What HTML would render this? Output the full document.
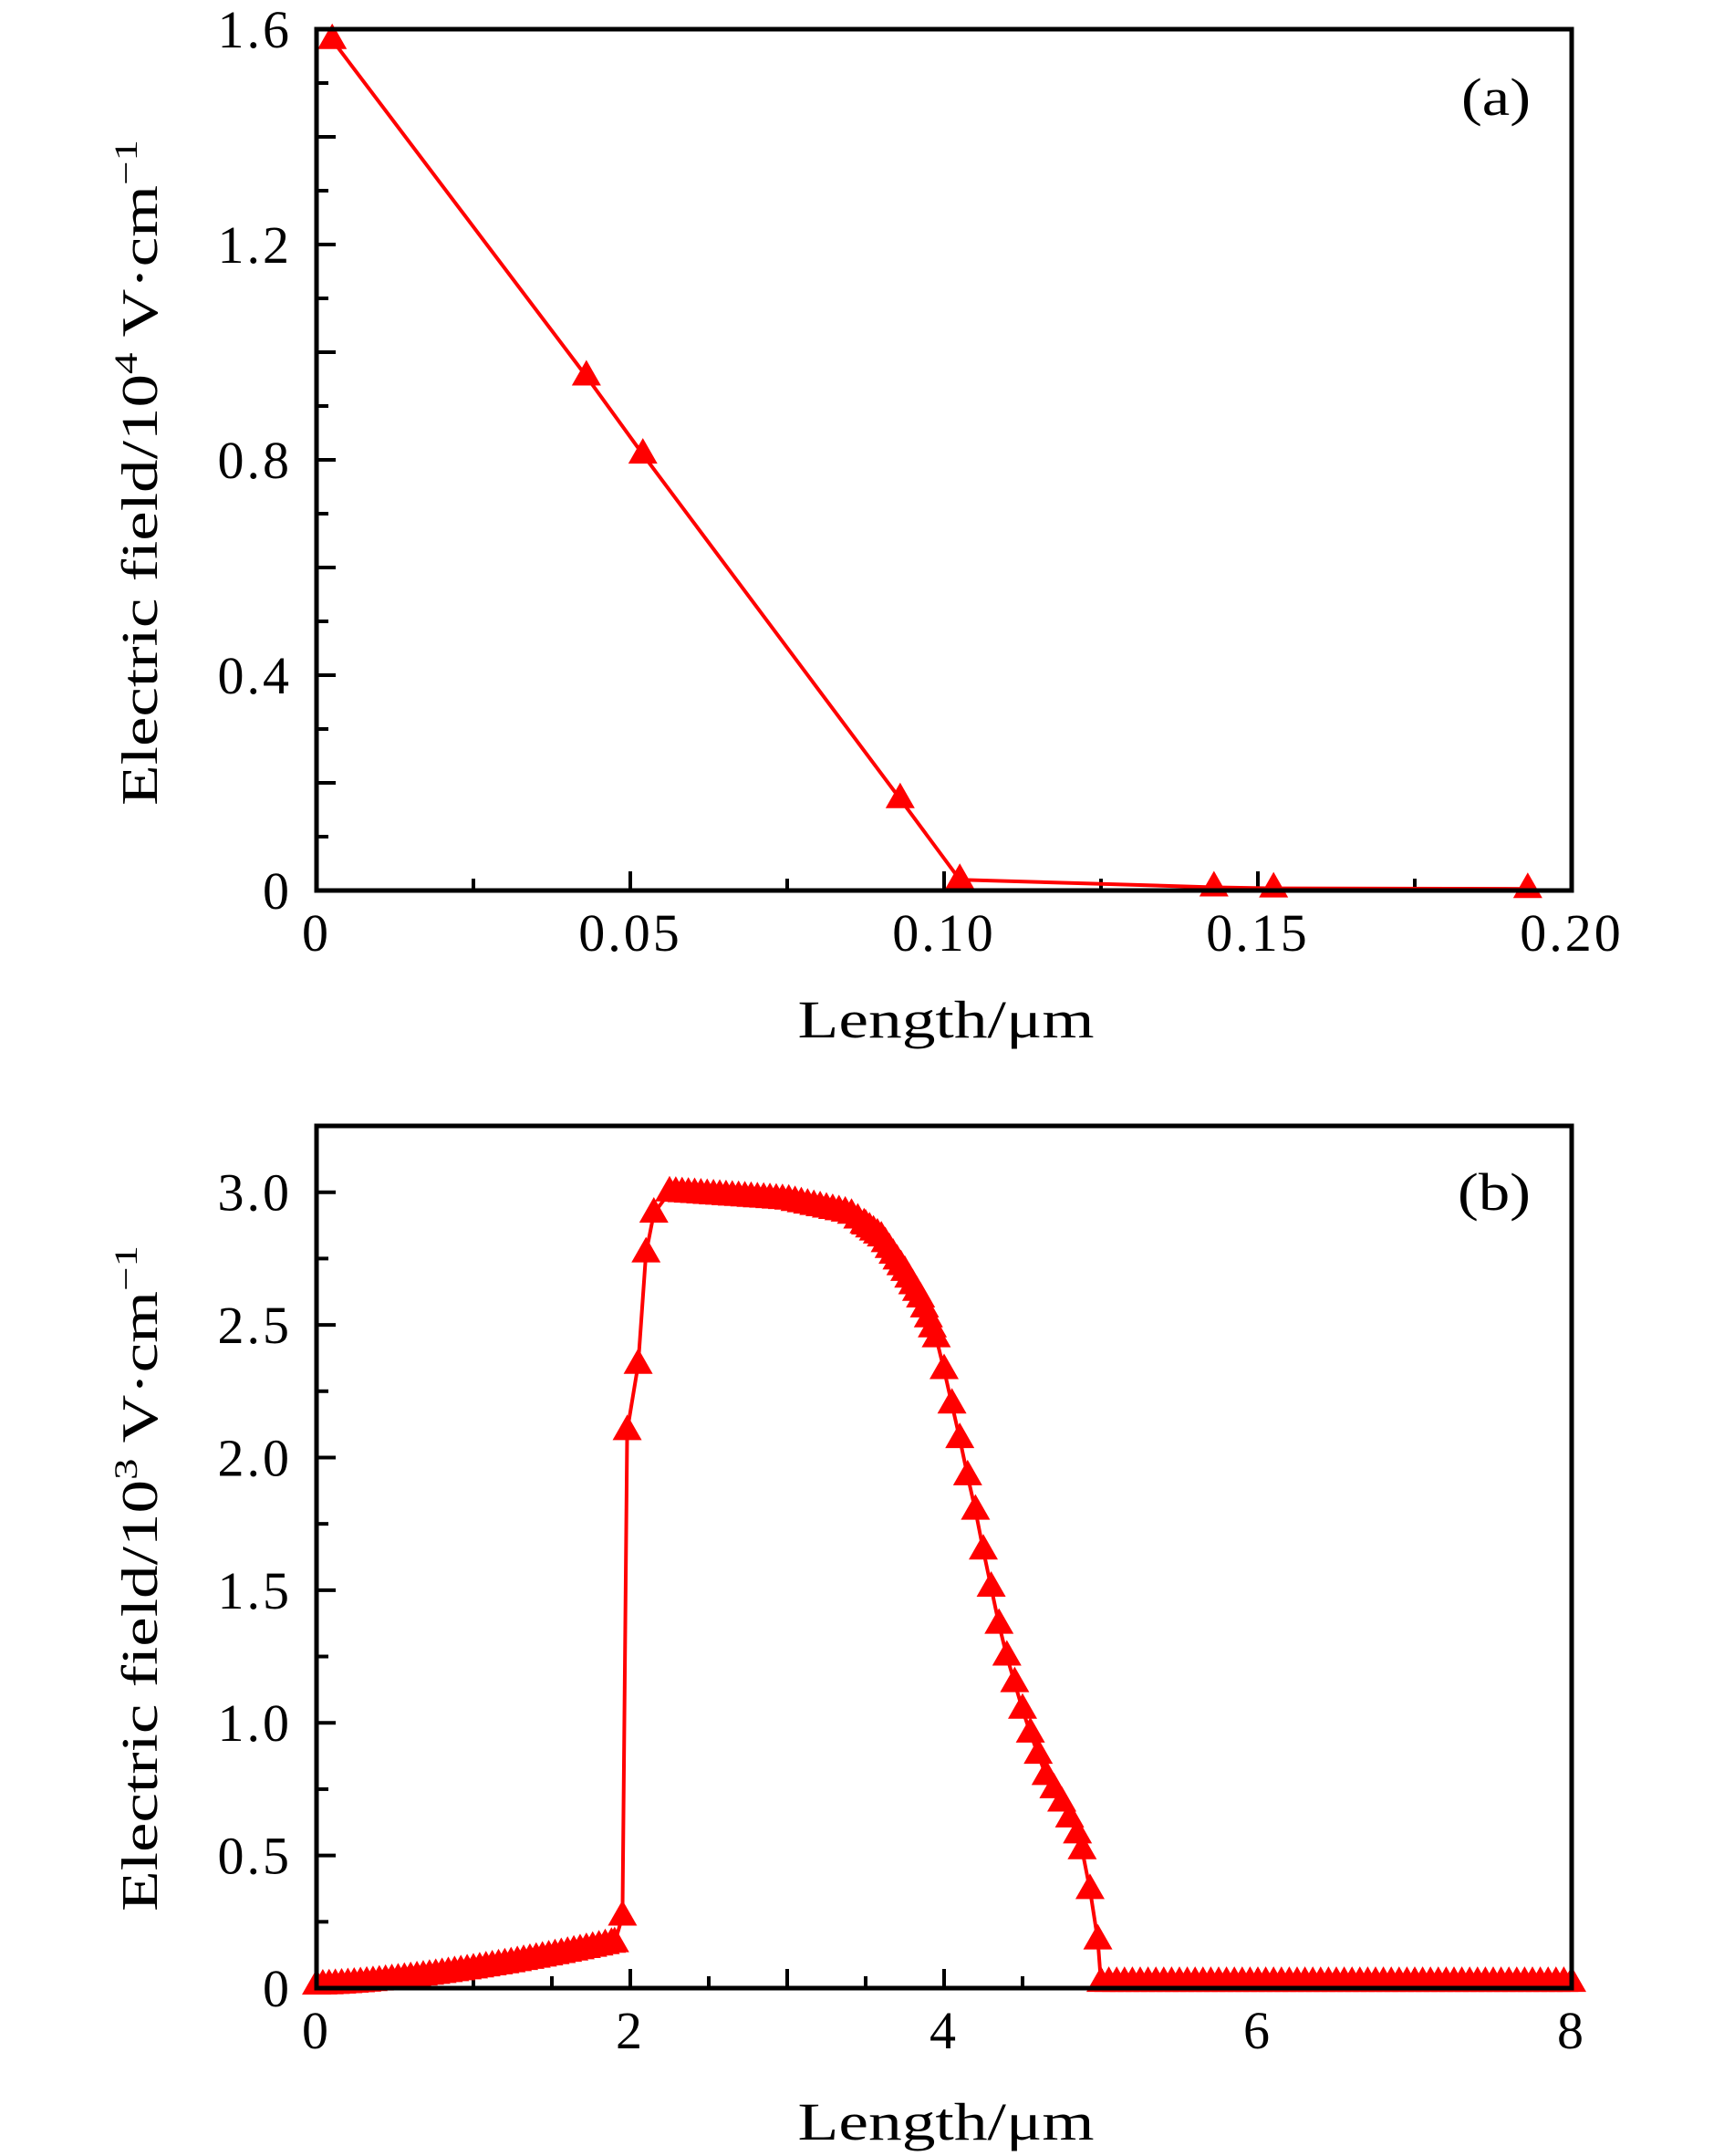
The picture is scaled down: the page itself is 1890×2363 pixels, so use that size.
<!DOCTYPE html>
<html><head><meta charset="utf-8"><style>
html,body{margin:0;padding:0;background:#fff;}
svg{display:block;}
text{font-family:"Liberation Serif",serif;fill:#000;}
</style></head><body>
<svg id="s" width="1890" height="2363" viewBox="0 0 1890 2363" xmlns="http://www.w3.org/2000/svg">
<rect width="1890" height="2363" fill="#fff"/>
<g id="g"></g>
<text x="1037" y="1137" font-size="58" text-anchor="middle" textLength="325" lengthAdjust="spacingAndGlyphs">Length/μm</text>
<text x="1037" y="2345" font-size="58" text-anchor="middle" textLength="325" lengthAdjust="spacingAndGlyphs">Length/μm</text>
<text transform="translate(172,518) rotate(-90)" font-size="56" text-anchor="middle" textLength="730" lengthAdjust="spacingAndGlyphs">Electric field/10<tspan font-size="36" dy="-22">4</tspan><tspan dy="22"> V·cm</tspan><tspan font-size="36" dy="-22">−1</tspan></text>
<text transform="translate(172,1730) rotate(-90)" font-size="56" text-anchor="middle" textLength="730" lengthAdjust="spacingAndGlyphs">Electric field/10<tspan font-size="36" dy="-22">3</tspan><tspan dy="22"> V·cm</tspan><tspan font-size="36" dy="-22">−1</tspan></text>
<text x="1620" y="126" font-size="58" textLength="76" lengthAdjust="spacingAndGlyphs" transform="translate(-18,0)">(a)</text>
<text x="1616" y="1326" font-size="58" textLength="80" lengthAdjust="spacingAndGlyphs" transform="translate(-18,0)">(b)</text>
</svg>
<script>
var g=document.getElementById('g'),h='';
var L=347,R=1723;
function ax(T,B,xmax,ymax,xt,xmin,xlab,yt,yminor,ylab,fmtx,fmty){
  var sx=function(v){return L+(R-L)*v/xmax},sy=function(v){return B-(B-T)*v/ymax};
  for(var v=0;v<=xmax+1e-9;v+=xmin){var x=sx(v);var maj=Math.abs(v/xt-Math.round(v/xt))<1e-6;
    h+='<line x1="'+x+'" y1="'+B+'" x2="'+x+'" y2="'+(B-(maj?21:13))+'" stroke="#000" stroke-width="4"/>';}
  for(var i=0;i<xlab.length;i++){h+='<text x="'+sx(xlab[i])+'" y="'+(B+66)+'" font-size="58" letter-spacing="3" text-anchor="middle">'+fmtx(xlab[i])+'</text>';}
  for(var v=0;v<=ymax+1e-9;v+=yminor){var y=sy(v);var maj=Math.abs(v/yt-Math.round(v/yt))<1e-6;
    h+='<line x1="'+L+'" y1="'+y+'" x2="'+(L+(maj?21:13))+'" y2="'+y+'" stroke="#000" stroke-width="4"/>';}
  for(var i=0;i<ylab.length;i++){h+='<text x="320" y="'+(sy(ylab[i])+20)+'" font-size="58" letter-spacing="3" text-anchor="end">'+fmty(ylab[i])+'</text>';}
  return [sx,sy];
}
function tri(x,y){return '<polygon points="'+x+','+(y-18)+' '+(x-16)+','+(y+10)+' '+(x+16)+','+(y+10)+'" fill="#f00"/>';}
var A=ax(32,976,0.2,1.6,0.05,0.025,[0,0.05,0.1,0.15,0.2],0.2,0.1,[0,0.4,0.8,1.2,1.6],
 function(v){return v==0?'0':v.toFixed(2)},function(v){return v==0?'0':v.toFixed(1)});
var da=[[0.0025,1.58],[0.043,0.955],[0.052,0.81],[0.093,0.17],[0.1025,0.02],[0.143,0.006],[0.1525,0.004],[0.193,0.003]];
var p='';da.forEach(function(d){p+=A[0](d[0])+','+A[1](d[1])+' '});
h+='<polyline points="'+p+'" fill="none" stroke="#f00" stroke-width="4"/>';
da.forEach(function(d){h+=tri(A[0](d[0]),A[1](d[1]))});
h+='<rect x="347" y="32" width="1376" height="944" fill="none" stroke="#000" stroke-width="5"/>';
var Bx=ax(1234,2179,8,3.25,1,0.5,[0,2,4,6,8],0.5,0.25,[0,0.5,1,1.5,2,2.5,3],
 function(v){return String(v)},function(v){return v==0?'0':v.toFixed(1)});
var kn=[[1.9,0.17],[1.95,0.27],[1.98,2.1],[2.05,2.35],[2.1,2.77],[2.15,2.92],[2.25,3.0],[3.0,2.97],[3.4,2.92],[3.6,2.83],[3.75,2.7],[3.85,2.6],[3.95,2.45],[4.0,2.33],[4.05,2.2],[4.1,2.07],[4.15,1.93],[4.2,1.8],[4.25,1.65],[4.3,1.51],[4.35,1.37],[4.4,1.25],[4.45,1.15],[4.5,1.05],[4.55,0.96],[4.6,0.88],[4.65,0.8],[4.7,0.75],[4.75,0.7],[4.8,0.64],[4.85,0.58],[4.88,0.52],[4.93,0.37],[4.98,0.18],[5.0,0.02]];
var pts=[];
for(var x=0;x<1.9;x+=0.04)pts.push([x,0.01+0.16*Math.pow(x/1.9,1.5)]);
kn.forEach(function(k){if(k[0]<2.26||k[0]>3.97)pts.push(k)});
function interp(x){for(var i=0;i<kn.length-1;i++){if(x>=kn[i][0]&&x<=kn[i+1][0]){var t=(x-kn[i][0])/(kn[i+1][0]-kn[i][0]);return kn[i][1]+t*(kn[i+1][1]-kn[i][1]);}}return 0.02;}
for(var x=2.29;x<3.5;x+=0.04)pts.push([x,interp(x)]);
for(var x=3.5;x<3.97;x+=0.025)pts.push([x,interp(x)]);
for(var x=5.05;x<=8.001;x+=0.05)pts.push([x,0.02]);
pts.sort(function(a,b){return a[0]-b[0]});
p='';pts.forEach(function(d){p+=Bx[0](d[0])+','+Bx[1](d[1])+' '});
h+='<polyline points="'+p+'" fill="none" stroke="#f00" stroke-width="4"/>';
pts.forEach(function(d){h+=tri(Bx[0](d[0]),Bx[1](d[1]))});
h+='<rect x="347" y="1234" width="1376" height="945" fill="none" stroke="#000" stroke-width="5"/>';
g.innerHTML=h;
</script>
</body></html>
